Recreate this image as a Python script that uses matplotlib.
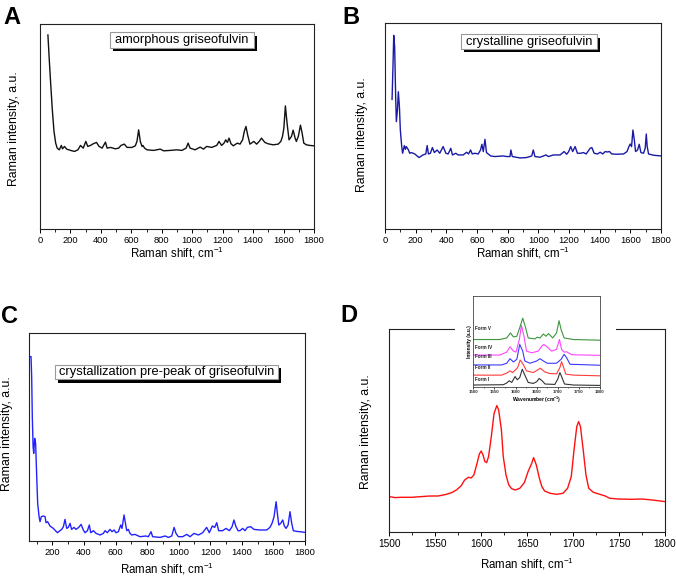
import matplotlib
matplotlib.use('Agg')
import matplotlib.pyplot as plt
from matplotlib.patches import Rectangle
from matplotlib.ticker import MultipleLocator

plt.rcParams['font.family'] = ['Liberation Sans', 'DejaVu Sans']
plt.rcParams['mathtext.fontset'] = 'custom'
plt.rcParams['mathtext.rm'] = 'Liberation Sans'
plt.rcParams['mathtext.it'] = 'Liberation Sans:italic'
plt.rcParams['mathtext.bf'] = 'Liberation Sans:bold'

# ---------------- data ----------------
# Panel A: amorphous griseofulvin
a_shift = [52, 61, 70, 81, 92, 103, 113, 127, 140, 148, 161, 175, 201, 227, 249, 266, 284, 301, 314, 332,
           349, 371, 388, 408, 430, 441, 463, 495, 517, 532, 554, 572, 604, 626, 637, 648, 659, 670, 676, 687,
           703, 746, 790, 812, 855, 899, 932, 960, 973, 986, 1019, 1052, 1074, 1095, 1128, 1161, 1176, 1193,
           1209, 1220, 1231, 1242, 1255, 1270, 1296, 1314, 1331, 1342, 1353, 1364, 1379, 1405, 1423, 1440,
           1455, 1477, 1499, 1532, 1565, 1582, 1593, 1602, 1612, 1623, 1636, 1652, 1663, 1676, 1684, 1697,
           1711, 1722, 1733, 1750, 1772, 1800]
a_int = [194.3, 169.3, 146, 119.3, 97.7, 86, 81, 79.3, 83.7, 80.3, 82.7, 80, 78.7, 77.7, 79.3, 83.7, 81, 87.7,
         82.7, 83.7, 85.3, 86.7, 82.7, 81, 87, 81, 81.7, 80.3, 81, 83.7, 85, 81.7, 81.7, 83.3, 87.7, 99.3, 87.7,
         82.7, 83.7, 81, 79.3, 78.7, 80, 78.3, 78.7, 79.3, 78.7, 81, 86, 81, 79.3, 82, 80, 82.7, 81.7, 83.7,
         87.7, 83.7, 86, 89.3, 86.7, 91, 85.3, 83.3, 86, 85, 89.3, 97.7, 102.7, 94.3, 85, 87.7, 85, 87.7, 91,
         86.7, 85.3, 84.3, 85, 87.7, 92.7, 101, 123.3, 106, 89.3, 92.7, 99, 91, 87.7, 92.7, 104, 96, 86, 84.3,
         83.7, 83.3]

# Panel B: crystalline griseofulvin
b_shift = [46, 52, 57, 63, 70, 74, 81, 87, 94, 100, 109, 115, 126, 133, 139, 153, 161, 172, 194, 222, 248, 266,
           275, 283, 296, 309, 322, 340, 357, 379, 397, 412, 429, 440, 462, 477, 510, 532, 545, 558, 569, 586,
           608, 623, 632, 641, 652, 662, 673, 689, 717, 771, 793, 815, 821, 830, 880, 924, 957, 967, 978, 1011,
           1050, 1066, 1098, 1142, 1168, 1185, 1198, 1211, 1224, 1240, 1255, 1277, 1294, 1312, 1338, 1349, 1364,
           1386, 1403, 1420, 1436, 1451, 1464, 1479, 1512, 1556, 1578, 1591, 1599, 1608, 1617, 1626, 1634, 1647,
           1658, 1669, 1686, 1697, 1704, 1710, 1719, 1752, 1800]
b_int = [130, 162.7, 194.3, 182.7, 129.3, 107.7, 119.3, 137.7, 122.7, 99.3, 82.7, 76, 83.7, 80, 82.7, 79.3, 76,
         76.7, 75.3, 71.7, 74.3, 75.3, 83.7, 75.3, 76, 81.7, 76.7, 79.3, 76, 82.7, 76, 75.3, 81, 74.3, 76, 74.3,
         74.3, 77, 75.3, 79.3, 75.3, 76, 75.3, 79.3, 85, 77.7, 90, 76.7, 75.3, 73.3, 72.7, 73.3, 72.7, 72.7, 79.3,
         72.7, 71.3, 71.7, 73.3, 79.3, 72.7, 72, 74.3, 72.7, 74.3, 74.3, 77.7, 75, 77.7, 82.7, 77.7, 82.7, 76, 76,
         76.7, 75.3, 81, 81.7, 76, 75.3, 77, 75.3, 77.7, 77.3, 77.7, 75.3, 75, 75.3, 77.7, 82.7, 85.3, 82.7, 99.3,
         89.3, 77.7, 79.3, 85, 76.7, 76, 81, 95.3, 82.7, 75.3, 74, 73.3]

# Panel C: crystallization pre-peak of griseofulvin
c_shift = [56, 65, 69, 73, 78, 82, 88, 94, 101, 107, 116, 122, 130, 143, 154, 160, 170, 185, 206, 232, 259, 270,
           280, 291, 301, 312, 322, 337, 350, 367, 382, 396, 407, 422, 434, 443, 460, 477, 502, 523, 534, 548, 565,
           578, 591, 603, 618, 633, 641, 654, 663, 671, 681, 692, 702, 723, 755, 791, 808, 825, 835, 882, 914, 935,
           956, 971, 983, 998, 1025, 1051, 1072, 1097, 1125, 1152, 1177, 1194, 1213, 1228, 1241, 1253, 1278, 1300,
           1321, 1338, 1350, 1363, 1376, 1388, 1405, 1420, 1435, 1456, 1477, 1515, 1557, 1578, 1591, 1604, 1617,
           1625, 1634, 1646, 1659, 1669, 1680, 1693, 1705, 1716, 1726, 1747, 1768, 1800]
c_int = [184, 184, 164, 124, 94, 87.3, 102.3, 97.3, 64, 37.3, 24, 19, 24, 24.7, 24, 18, 19, 14.7, 12.3, 8, 11.3,
         14, 21.3, 12.3, 13.3, 17.3, 11.3, 13.3, 11.3, 13.3, 16.3, 10.7, 8, 10, 15.7, 8, 10, 7.3, 5.7, 7.3, 10, 8,
         11.3, 9, 10.7, 8, 9, 15.7, 12.3, 25.7, 17.3, 10, 11.3, 7.3, 5.7, 6.3, 4, 4.7, 4, 9, 4, 3.3, 4.7, 3.3, 4.7,
         13.3, 7.3, 4, 4, 6.3, 4, 7.3, 5.7, 8, 13.3, 8, 14.7, 13.3, 18, 10, 10, 12.3, 10, 14, 20.7, 14, 10, 10,
         12.3, 10, 13.3, 14, 11.3, 10.7, 10.7, 13.3, 17.3, 24, 39, 27.3, 15.7, 17.3, 20.7, 14.7, 12.3, 15.7, 29,
         17.3, 10, 9.3, 9, 8.3]

# Panel D: 1500-1800 cm-1 region
d_shift = [1500, 1506, 1513, 1524, 1535, 1544, 1553, 1561, 1568, 1573, 1578, 1582, 1586, 1589, 1592, 1595, 1598,
           1600, 1602, 1604, 1606, 1608, 1611, 1614, 1617, 1619, 1622, 1624, 1627, 1630, 1633, 1637, 1642, 1647,
           1651, 1655, 1657, 1660, 1663, 1666, 1669, 1675, 1682, 1689, 1694, 1698, 1701, 1704, 1706, 1708, 1711,
           1714, 1717, 1722, 1729, 1735, 1740, 1749, 1764, 1775, 1786, 1800]
d_int = [35.7, 34.7, 35, 35, 35.7, 36.3, 36.3, 37.7, 39.7, 42.3, 46.3, 52.3, 55, 54.3, 57.3, 67.3, 78.3, 81.3,
         77.3, 70.7, 69.7, 75.7, 95.7, 119, 126.7, 122.3, 102.3, 75.7, 57.3, 47.3, 43.7, 42.3, 44, 49.7, 60.7, 69,
         74.7, 67.3, 55, 45.7, 41.3, 39, 38, 39, 44, 55.7, 82.3, 105.7, 110.7, 105.7, 82.3, 57.3, 44, 40, 38, 36.3,
         34, 33.3, 33, 33.3, 32.3, 30.7]

# Inset: polymorphic forms (offset traces)
form_names = ['Form I', 'Form II', 'Form III', 'Form IV', 'Form V']
form_colors = ['#333333', '#ff3b3b', '#3a3aff', '#ff44ff', '#3c963c']
form_label_y = [3, 14.7, 25.7, 35, 54]
f1_x = [1500, 1571, 1579, 1585, 1591, 1599, 1604, 1610, 1616, 1621, 1630, 1642, 1650, 1656, 1663, 1670, 1693,
        1700, 1705, 1710, 1716, 1737, 1800]
f1_y = [0.7, 1, 2.7, 5, 3.3, 9.3, 6, 8.3, 16.7, 11.7, 3.3, 2.3, 4, 7.3, 5, 1.7, 1.3, 6.7, 13.3, 8.3, 1.7, 0.7,
        0.3]
f2_x = [1500, 1567, 1579, 1587, 1593, 1599, 1605, 1611, 1618, 1626, 1642, 1659, 1669, 1681, 1697, 1705, 1709,
        1714, 1719, 1737, 1800]
f2_y = [10.7, 10.7, 12.7, 15, 13.3, 15.7, 18.3, 26, 21.7, 15, 13.3, 17.7, 14, 12.3, 12, 18.3, 24.3, 18.3, 11.7,
        10.7, 10]
f3_x = [1500, 1567, 1579, 1587, 1595, 1603, 1610, 1617, 1622, 1634, 1650, 1658, 1666, 1675, 1697, 1708, 1715,
        1721, 1729, 1800]
f3_y = [21, 21, 22.7, 27.3, 24, 26.7, 41.7, 35, 25, 22.7, 25, 27.3, 25, 22.7, 22.7, 26.7, 31.7, 28.3, 21.7, 20.7]
f4_x = [1500, 1563, 1579, 1587, 1595, 1601, 1609, 1614, 1620, 1626, 1638, 1654, 1662, 1667, 1675, 1685, 1697,
        1704, 1709, 1715, 1721, 1733, 1800]
f4_y = [31, 31, 34, 39.3, 35, 34, 46.7, 61, 50, 35, 33.3, 35, 40, 41.7, 39.3, 35, 36.7, 46.7, 36.7, 34, 34.3,
        31.3, 30.7]
f5_x = [1500, 1563, 1579, 1588, 1595, 1603, 1611, 1617, 1623, 1630, 1646, 1651, 1658, 1666, 1672, 1678, 1688,
        1697, 1703, 1708, 1715, 1737, 1800]
f5_y = [46.7, 46.7, 48.3, 53.3, 49.3, 50, 60, 68.3, 60, 48.3, 47.3, 49, 48.3, 52.3, 50, 52.7, 48.3, 53.3, 65.7,
        56.7, 48.3, 46.7, 46]

titles = ['amorphous griseofulvin', 'crystalline griseofulvin', 'crystallization pre-peak of griseofulvin']

# ---------------- figure ----------------
W, H = 676, 577
fig = plt.figure(figsize=(W / 100, H / 100), dpi=100)


def px_axes(l, t, r, b, **kw):
    return fig.add_axes([l / W, 1 - b / H, (r - l) / W, (b - t) / H], **kw)


def style(ax, xlim, ylim, major, minor, fs, lw=0.8):
    ax.set_xlim(xlim)
    ax.set_ylim(ylim)
    ax.set_yticks([])
    ax.xaxis.set_major_locator(MultipleLocator(major))
    ax.xaxis.set_minor_locator(MultipleLocator(minor))
    ax.tick_params(axis='x', which='major', direction='out', length=3.2, width=0.7,
                   labelsize=fs, pad=1.8)
    ax.tick_params(axis='x', which='minor', direction='out', length=2, width=0.6)
    for s in ax.spines.values():
        s.set_linewidth(lw)
        s.set_color('#222222')


def labels(ax, xl_y, yl_x, yl_y, fs_x=8.3, fs_y=8.8):
    ax.set_xlabel('Raman shift, cm$^{\\mathregular{-1}}$', fontsize=fs_x)
    ax.xaxis.set_label_coords(0.5, xl_y)
    ax.xaxis.label.set_va('baseline')
    ax.set_ylabel('Raman intensity, a.u.', fontsize=fs_y)
    ax.yaxis.set_label_coords(yl_x, yl_y)


def title_box(x0, y0, x1, y1, text, fs=9.3):
    sh = Rectangle(((x0 + 3) / W, 1 - (y1 + 3.3) / H), (x1 - x0) / W, (y1 - y0) / H,
                   transform=fig.transFigure, fc='black', ec='none', zorder=5)
    bx = Rectangle((x0 / W, 1 - y1 / H), (x1 - x0) / W, (y1 - y0) / H,
                   transform=fig.transFigure, fc='white', ec='#999999', lw=0.8, zorder=6)
    fig.add_artist(sh)
    fig.add_artist(bx)
    fig.text((x0 + x1) / 2 / W, 1 - (y0 + y1) / 2 / H, text, ha='center', va='center',
             fontsize=fs, zorder=7)


# Panel A
axA = px_axes(40, 24, 314, 229)
axA.plot(a_shift, a_int, color='#111111', lw=1.0)
style(axA, (0, 1800), (0, 205.3), 200, 100, 6.7)
labels(axA, -0.138, -0.073, 0.49)
title_box(110, 32.3, 254, 47.7, titles[0])

# Panel B
axB = px_axes(385, 23, 661, 229)
axB.plot(b_shift, b_int, color='#1a1aa6', lw=1.0)
style(axB, (0, 1800), (0, 206.7), 200, 100, 6.7)
labels(axB, -0.136, -0.062, 0.46)
title_box(461, 34.3, 597, 49, titles[1])

# Panel C
axC = px_axes(29.3, 333.3, 305, 540.7)
axC.plot(c_shift, c_int, color='#2222ff', lw=1.0)
style(axC, (54, 1800), (0, 207.3), 200, 100, 6.7)
labels(axC, -0.158, -0.060, 0.515)
title_box(55, 365, 277.7, 379.3, titles[2])

# Panel D
axD = px_axes(389.3, 329.3, 665, 532.3)
axD.plot(d_shift, d_int, color='#ff1010', lw=1.0)
style(axD, (1500, 1800), (0, 203), 50, 25, 7.3)
labels(axD, -0.176, -0.064, 0.497)

# white background behind the inset (interrupts the top spine of D)
fig.add_artist(Rectangle((455 / W, 1 - 340 / H), (616 - 455) / W, 40 / H,
                         transform=fig.transFigure, fc='white', ec='none', zorder=1))

# Inset
ins = px_axes(473.3, 296, 600, 386.7, zorder=3)
for fx, fy, col in zip([f1_x, f2_x, f3_x, f4_x, f5_x], [f1_y, f2_y, f3_y, f4_y, f5_y], form_colors):
    ins.plot(fx, fy, color=col, lw=0.8)
for name, ly in zip(form_names, form_label_y):
    ins.text(1504, ly + 1.2, name, fontsize=3.3, fontweight='bold', color='#222222', va='bottom')
ins.set_xlim(1500, 1800)
ins.set_ylim(-1, 90.7)
ins.set_yticks([])
ins.xaxis.set_major_locator(MultipleLocator(50))
ins.xaxis.set_minor_locator(MultipleLocator(25))
ins.tick_params(axis='x', which='major', direction='out', length=1.5, width=0.5, labelsize=3.2, pad=1,
                labelcolor='#333333')
ins.tick_params(axis='x', which='minor', direction='out', length=1, width=0.4)
for lab in ins.get_xticklabels():
    lab.set_fontweight('bold')
for s in ins.spines.values():
    s.set_linewidth(0.6)
    s.set_color('#444444')
ins.set_xlabel('Wavenumber (cm$^{\\mathregular{-1}}$)', fontsize=3.6, fontweight='bold', labelpad=0.5)
ins.set_ylabel('Intensity (a.u.)', fontsize=3.4, fontweight='bold', labelpad=1)

# Panel letters
for letter, (lx, ly) in zip('ABCD', [(3, 24), (342, 24), (1, 323), (340, 322)]):
    fig.text(lx / W, 1 - ly / H, letter, fontsize=17, fontweight='bold', ha='left', va='baseline')

fig.savefig('out.png', dpi=100)
